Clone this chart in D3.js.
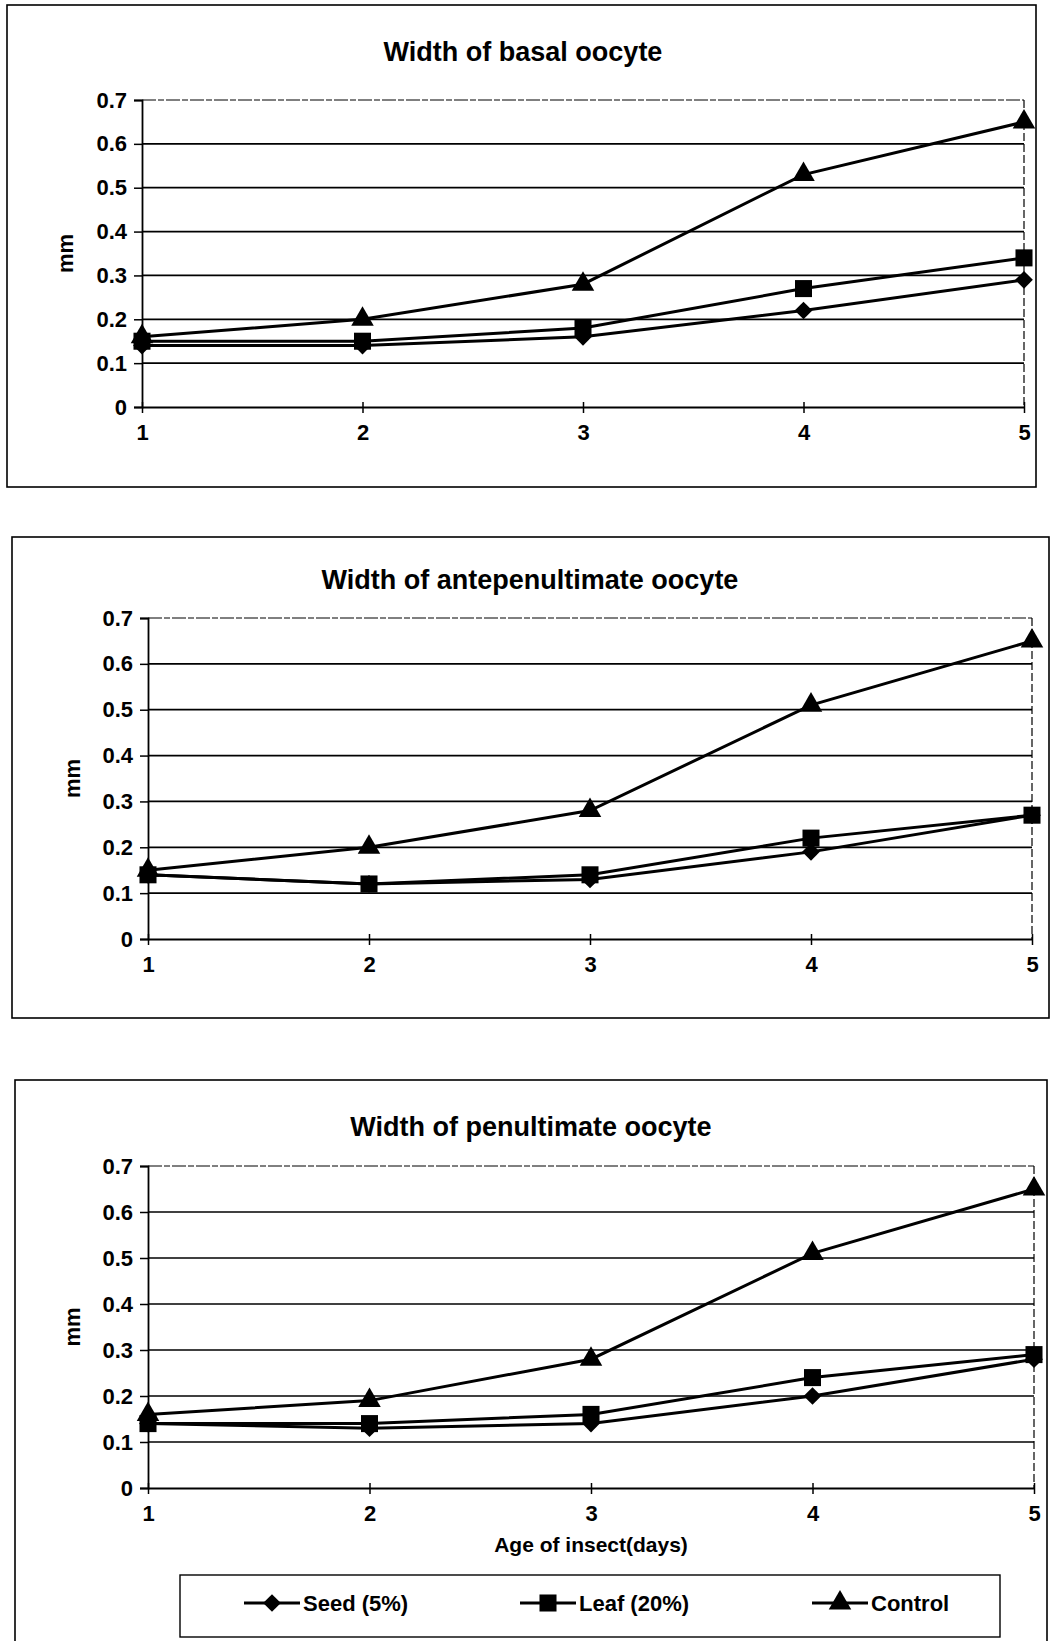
<!DOCTYPE html>
<html>
<head>
<meta charset="utf-8">
<script src="https://cdn.jsdelivr.net/npm/d3@7"></script>
<style>
  body { margin: 0; background: #fff; }
  text { font-family: "Liberation Sans", Arial, sans-serif; font-weight: bold; fill: #000; }
</style>
</head>
<body>
<script>
var width = 1052,
    height = 1641;

// data
var days = [1, 2, 3, 4, 5];
var yTicks = [0, 0.1, 0.2, 0.3, 0.4, 0.5, 0.6, 0.7];
var seriesNames = ["Seed (5%)", "Leaf (20%)", "Control"];
var chartTitles = ["Width of basal oocyte", "Width of antepenultimate oocyte", "Width of penultimate oocyte"];

var basalSeed    = [0.14, 0.14, 0.16, 0.22, 0.29];
var basalLeaf    = [0.15, 0.15, 0.18, 0.27, 0.34];
var basalControl = [0.16, 0.20, 0.28, 0.53, 0.65];

var anteSeed    = [0.14, 0.12, 0.13, 0.19, 0.27];
var anteLeaf    = [0.14, 0.12, 0.14, 0.22, 0.27];
var anteControl = [0.15, 0.20, 0.28, 0.51, 0.65];

var penSeed    = [0.14, 0.13, 0.14, 0.20, 0.28];
var penLeaf    = [0.14, 0.14, 0.16, 0.24, 0.29];
var penControl = [0.16, 0.19, 0.28, 0.51, 0.65];

var symbols = [d3.symbolDiamond2, d3.symbolSquare, d3.symbolTriangle];
var symbolSizes = [200, 290, 220];

// layout of the three boxes
var panels = [
    {frame: [7, 5, 1036, 487],     plot: [142, 100, 1024, 407],  titleDy: 39, mmX: 65, series: [basalSeed, basalLeaf, basalControl]},
    {frame: [12, 537, 1049, 1018], plot: [148, 618, 1032, 939],  titleDy: 29, mmX: 72, series: [anteSeed, anteLeaf, anteControl]},
    {frame: [15, 1080, 1047, 1660], plot: [148, 1166, 1034, 1488], titleDy: 30, mmX: 72, series: [penSeed, penLeaf, penControl]}
];

var svg = d3.select("body").append("svg")
    .attr("width", width)
    .attr("height", height);

panels.forEach(function (p, i) {
    var g = svg.append("g");

    g.append("rect")
        .attr("x", p.frame[0]).attr("y", p.frame[1])
        .attr("width", p.frame[2] - p.frame[0])
        .attr("height", p.frame[3] - p.frame[1])
        .attr("fill", "none").attr("stroke", "#000").attr("stroke-width", 1.6);

    var x = d3.scaleLinear().domain([1, 5]).range([p.plot[0], p.plot[2]]);
    var y = d3.scaleLinear().domain([0, 0.7]).range([p.plot[3], p.plot[1]]);

    // title
    g.append("text")
        .attr("x", (p.plot[0] + p.plot[2]) / 2 - 60)
        .attr("y", p.plot[1] - p.titleDy)
        .attr("text-anchor", "middle")
        .style("font-size", "27px")
        .text(chartTitles[i]);

    // horizontal grid lines
    g.selectAll(".grid")
        .data(yTicks.filter(function (d) { return d > 0 && d < 0.7; }))
        .enter().append("line")
        .attr("x1", x(1)).attr("x2", x(5))
        .attr("y1", function (d) { return y(d); })
        .attr("y2", function (d) { return y(d); })
        .attr("stroke", "#000").attr("stroke-width", 1.7);

    // top and right edge of plot area (faint, broken in the print)
    g.append("line")
        .attr("x1", x(1)).attr("x2", x(5))
        .attr("y1", y(0.7)).attr("y2", y(0.7))
        .attr("stroke", "#000").attr("stroke-width", 1)
        .attr("stroke-dasharray", "14,2,6,2");
    g.append("line")
        .attr("x1", x(5)).attr("x2", x(5))
        .attr("y1", y(0.7)).attr("y2", y(0))
        .attr("stroke", "#000").attr("stroke-width", 1.2)
        .attr("stroke-dasharray", "8,3");

    // y axis
    var axisY = d3.axisLeft(y)
        .tickValues(yTicks)
        .tickSize(8)
        .tickPadding(7)
        .tickFormat(function (d) { return d === 0 ? "0" : d3.format(".1f")(d); });
    var gy = g.append("g")
        .attr("transform", "translate(" + x(1) + ",0)")
        .call(axisY);
    gy.select(".domain").attr("stroke-width", 1.8);
    gy.selectAll(".tick line").attr("stroke-width", 1.5);
    gy.selectAll("text").style("font-size", "22px").style("font-family", "Liberation Sans, Arial, sans-serif").style("font-weight", "bold");

    // x axis
    var axisX = d3.axisBottom(x)
        .tickValues(days)
        .tickSizeInner(6)
        .tickSizeOuter(0)
        .tickPadding(11)
        .tickFormat(d3.format("d"));
    var gx = g.append("g")
        .attr("transform", "translate(0," + y(0) + ")")
        .call(axisX);
    gx.select(".domain").attr("stroke-width", 1.8);
    gx.selectAll(".tick line").attr("y1", -5).attr("stroke-width", 1.5);
    gx.selectAll("text").style("font-size", "22px").style("font-family", "Liberation Sans, Arial, sans-serif").style("font-weight", "bold");

    // y axis label
    g.append("text")
        .attr("transform", "translate(" + p.mmX + "," + ((p.plot[1] + p.plot[3]) / 2) + ") rotate(-90)")
        .attr("text-anchor", "middle")
        .attr("dy", "0.35em")
        .style("font-size", "22px")
        .text("mm");

    // series lines and markers
    var line = d3.line()
        .x(function (d, j) { return x(days[j]); })
        .y(function (d) { return y(d); });

    p.series.forEach(function (values, s) {
        g.append("path")
            .datum(values)
            .attr("fill", "none")
            .attr("stroke", "#000")
            .attr("stroke-width", 3)
            .attr("d", line);
    });
    p.series.forEach(function (values, s) {
        g.selectAll(".m" + s)
            .data(values)
            .enter().append("path")
            .attr("transform", function (d, j) { return "translate(" + x(days[j]) + "," + y(d) + ")"; })
            .attr("d", d3.symbol().type(symbols[s]).size(symbolSizes[s]))
            .attr("fill", "#000");
    });

    if (i === 2) {
        g.append("text")
            .attr("x", (p.plot[0] + p.plot[2]) / 2)
            .attr("y", y(0) + 64)
            .attr("text-anchor", "middle")
            .style("font-size", "21px")
            .text("Age of insect(days)");
    }
});

// legend
var legendBox = [180, 1575, 1000, 1637];
var legendItems = [244, 520, 812];
var lg = svg.append("g");
lg.append("rect")
    .attr("x", legendBox[0]).attr("y", legendBox[1])
    .attr("width", legendBox[2] - legendBox[0])
    .attr("height", legendBox[3] - legendBox[1])
    .attr("fill", "#fff").attr("stroke", "#000").attr("stroke-width", 1.4);

seriesNames.forEach(function (name, s) {
    var lx = legendItems[s],
        ly = 1603;
    lg.append("line")
        .attr("x1", lx).attr("x2", lx + 56)
        .attr("y1", ly).attr("y2", ly)
        .attr("stroke", "#000").attr("stroke-width", 3);
    lg.append("path")
        .attr("transform", "translate(" + (lx + 28) + "," + ly + ")")
        .attr("d", d3.symbol().type(symbols[s]).size(symbolSizes[s]))
        .attr("fill", "#000");
    lg.append("text")
        .attr("x", lx + 59)
        .attr("y", ly)
        .attr("dy", "0.36em")
        .style("font-size", "22px")
        .text(name);
});
</script>
</body>
</html>
